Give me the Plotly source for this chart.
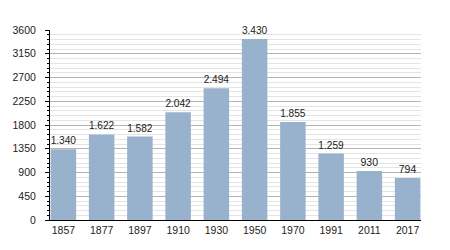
import plotly.graph_objects as go

years = ["1857", "1877", "1897", "1910", "1930", "1950", "1970", "1991", "2011", "2017"]
population = [1340, 1622, 1582, 2042, 2494, 3430, 1855, 1259, 930, 794]
labels = ["1.340", "1.622", "1.582", "2.042", "2.494", "3.430", "1.855", "1.259", "930", "794"]
y_ticks = [0, 450, 900, 1350, 1800, 2250, 2700, 3150, 3600]

fig = go.Figure(go.Bar(
    x=list(range(len(years))), y=population, text=labels,
    textposition="outside", textfont=dict(size=10.5, color="#222"),
    marker=dict(color="#98b2ce", line=dict(width=0)),
    width=0.667, cliponaxis=False,
))
fig.update_layout(
    width=450, height=250, margin=dict(l=50, r=29, t=30, b=30),
    paper_bgcolor="white", plot_bgcolor="white",
    font=dict(family="Liberation Sans, Arial, sans-serif", size=10.5, color="#222"),
    showlegend=False,
    xaxis=dict(range=[-0.35, 9.35], tickvals=list(range(len(years))), ticktext=years,
               showline=True, linecolor="black", linewidth=1, ticks="", showgrid=False,
               zeroline=False),
    yaxis=dict(range=[0, 3600], tickvals=y_ticks, showline=True, linecolor="black",
               linewidth=1, ticks="outside", ticklen=4, tickcolor="black",
               ticklabelstandoff=7,
               gridcolor="#b4b4b4", gridwidth=1, zeroline=False,
               minor=dict(dtick=90, tick0=0, showgrid=True, gridcolor="#e4e4e4",
                          ticks="outside", ticklen=2, tickcolor="black")),
)
fig.write_html("out.html")
